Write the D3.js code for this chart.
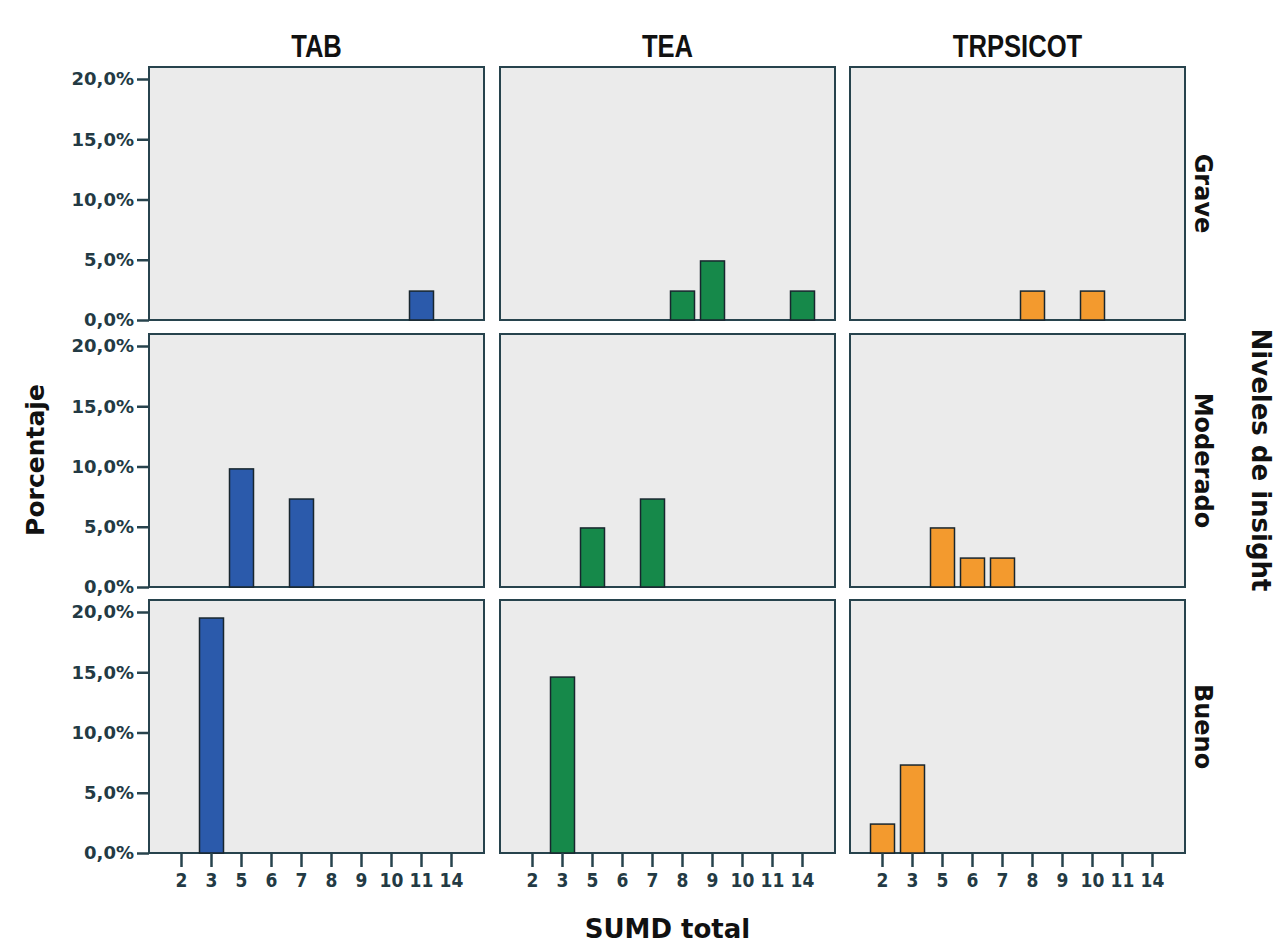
<!DOCTYPE html>
<html>
<head>
<meta charset="utf-8">
<script src="https://cdn.jsdelivr.net/npm/d3@7"></script>
<style>
  body { margin: 0; background: #fff; }
  svg text { font-family: "DejaVu Sans", Verdana, sans-serif; }
</style>
</head>
<body>
<div id="chart"></div>
<script>
// categories on the x axis (SUMD total)
const sumdValues = ['2', '3', '5', '6', '7', '8', '9', '10', '11', '14'];
const diagnoses = ['TAB', 'TEA', 'TRPSICOT'];
const insightLevels = ['Grave', 'Moderado', 'Bueno'];
const yTicks = [0, 5, 10, 15, 20];

// percentage per diagnosis, per insight level, per SUMD value (only non zero ones)
const tabGrave = [{ k: '11', v: 2.4 }];
const tabModerado = [{ k: '5', v: 9.8 }, { k: '7', v: 7.3 }];
const tabBueno = [{ k: '3', v: 19.5 }];
const teaGrave = [{ k: '8', v: 2.4 }, { k: '9', v: 4.9 }, { k: '14', v: 2.4 }];
const teaModerado = [{ k: '5', v: 4.9 }, { k: '7', v: 7.3 }];
const teaBueno = [{ k: '3', v: 14.6 }];
const trpGrave = [{ k: '8', v: 2.4 }, { k: '10', v: 2.4 }];
const trpModerado = [{ k: '5', v: 4.9 }, { k: '6', v: 2.4 }, { k: '7', v: 2.4 }];
const trpBueno = [{ k: '2', v: 2.4 }, { k: '3', v: 7.3 }];

const colors = ['#2b5aab', '#16894a', '#f39a2e'];
const panelData = [
  [tabGrave, teaGrave, trpGrave],
  [tabModerado, teaModerado, trpModerado],
  [tabBueno, teaBueno, trpBueno]
];

const width = 1280, height = 944;
const panelW = 335, panelH = 253;
const colX = [149, 500, 850];
const rowY = [67, 334, 600];
const axisColor = '#27434d';

const svg = d3.select('#chart').append('svg')
  .attr('width', width)
  .attr('height', height);

const x = d3.scaleBand()
  .domain(sumdValues)
  .range([17.5, panelW - 17.5])
  .paddingInner(0.2)
  .paddingOuter(0.1);

const y = d3.scaleLinear()
  .domain([0, 20])
  .range([panelH, 12]);

const fmt = d => d3.format('.1f')(d).replace('.', ',') + '%';

panelData.forEach((row, r) => {
  row.forEach((cell, c) => {
    const g = svg.append('g')
      .attr('transform', `translate(${colX[c]},${rowY[r]})`);

    g.append('rect')
      .attr('width', panelW)
      .attr('height', panelH)
      .attr('fill', '#ebebeb')
      .attr('stroke', axisColor)
      .attr('stroke-width', 2);

    g.selectAll('.bar')
      .data(cell)
      .enter()
      .append('rect')
      .attr('class', 'bar')
      .attr('x', d => x(d.k))
      .attr('y', d => y(d.v))
      .attr('width', x.bandwidth())
      .attr('height', d => y(0) - y(d.v))
      .attr('fill', colors[c])
      .attr('stroke', '#18262e')
      .attr('stroke-width', 1.5);

    // y axis only in first column
    if (c === 0) {
      const ya = g.append('g')
        .call(d3.axisLeft(y).tickValues(yTicks).tickFormat(fmt).tickSize(12).tickPadding(3));
      ya.select('.domain').remove();
      ya.selectAll('line').attr('stroke', axisColor).attr('stroke-width', 2.5);
      ya.selectAll('text')
        .attr('fill', '#233a44')
        .attr('font-size', 18)
        .style('font-size', '18px')
        .style('font-weight', 'bold');
    }

    // x axis only in bottom row
    if (r === 2) {
      const xa = g.append('g')
        .attr('transform', `translate(0,${panelH})`)
        .call(d3.axisBottom(x).tickSize(14).tickPadding(7));
      xa.select('.domain').remove();
      xa.selectAll('line').attr('stroke', axisColor).attr('stroke-width', 2.5);
      xa.selectAll('text')
        .attr('fill', '#233a44')
        .attr('font-size', 19)
        .style('font-family', '"DejaVu Sans Condensed", "DejaVu Sans", sans-serif')
        .style('font-size', '19px')
        .style('font-weight', 'bold');
    }
  });
});

// column titles (narrow bold look)
svg.selectAll('.col-title')
  .data(diagnoses)
  .enter()
  .append('text')
  .attr('class', 'col-title')
  .attr('transform', (d, i) => `translate(${colX[i] + panelW / 2},57) scale(0.8,1)`)
  .attr('text-anchor', 'middle')
  .style('font-family', '"Liberation Sans", Arial, sans-serif')
  .style('font-size', '32px')
  .style('font-weight', 'bold')
  .attr('fill', '#111')
  .text(d => d);

// row labels on the right
svg.selectAll('.row-title')
  .data(insightLevels)
  .enter()
  .append('text')
  .attr('class', 'row-title')
  .attr('transform', (d, i) => `translate(1195,${rowY[i] + panelH / 2}) rotate(90)`)
  .attr('text-anchor', 'middle')
  .style('font-size', '24px')
  .style('font-weight', 'bold')
  .attr('fill', '#111')
  .text(d => d);

// axis titles
svg.append('text')
  .attr('transform', `translate(44,${(rowY[0] + rowY[2] + panelH) / 2}) rotate(-90)`)
  .attr('text-anchor', 'middle')
  .style('font-size', '25px')
  .style('font-weight', 'bold')
  .attr('fill', '#111')
  .text('Porcentaje');

svg.append('text')
  .attr('transform', `translate(1252,${(rowY[0] + rowY[2] + panelH) / 2}) rotate(90)`)
  .attr('text-anchor', 'middle')
  .style('font-size', '26px')
  .style('font-weight', 'bold')
  .attr('fill', '#111')
  .text('Niveles de insight');

svg.append('text')
  .attr('x', colX[1] + panelW / 2)
  .attr('y', 938)
  .attr('text-anchor', 'middle')
  .style('font-size', '26px')
  .style('font-weight', 'bold')
  .attr('fill', '#111')
  .text('SUMD total');
</script>
</body>
</html>
